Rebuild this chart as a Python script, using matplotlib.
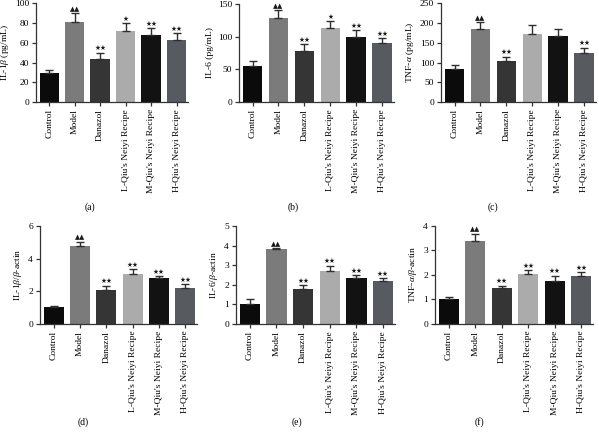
import matplotlib
matplotlib.use("Agg")
import matplotlib.pyplot as plt
import numpy as np

plt.rcParams['font.family'] = ['Liberation Serif', 'DejaVu Serif']
plt.rcParams['mathtext.fontset'] = 'custom'
plt.rcParams['mathtext.rm'] = 'Liberation Serif'
plt.rcParams['mathtext.it'] = 'Liberation Serif:italic'

categories = ["Control", "Model", "Danazol", "L-Qiu's Neiyi Recipe",
              "M-Qiu's Neiyi Recipe", "H-Qiu's Neiyi Recipe"]
bar_colors = ['#0b0b0b', '#7b7b7b', '#353535', '#ababab', '#121212', '#575b5f']

il1b_mean = [29, 81.5, 44, 72, 67.5, 62.5]
il1b_err = [3.5, 8.5, 6, 8, 7, 7.5]
il6_mean = [55.5, 128, 78.5, 113.5, 100, 90]
il6_err = [7, 13, 10, 10.5, 10, 8]
tnf_mean = [83, 184, 103, 172, 167, 123]
tnf_err = [11, 18, 12, 23, 18, 15]
il1b_rel_mean = [1.02, 4.76, 2.09, 3.08, 2.83, 2.22]
il1b_rel_err = [0.1, 0.3, 0.26, 0.27, 0.1, 0.24]
il6_rel_mean = [1.02, 3.82, 1.81, 2.71, 2.34, 2.2]
il6_rel_err = [0.27, 0.07, 0.17, 0.28, 0.17, 0.17]
tnf_rel_mean = [1.01, 3.4, 1.45, 2.05, 1.76, 1.94]
tnf_rel_err = [0.09, 0.29, 0.11, 0.13, 0.21, 0.19]

marks_a = ['', '▲▲', '★★', '★', '★★', '★★']
marks_b = ['', '▲▲', '★★', '★', '★★', '★★']
marks_c = ['', '▲▲', '★★', '', '', '★★']
marks_rel = ['', '▲▲', '★★', '★★', '★★', '★★']

ylabels = [r"IL-1$\beta$ (pg/mL)", "IL-6 (pg/mL)", r"TNF-$\alpha$ (pg/mL)",
           r"IL-1$\beta$/$\beta$-actin", r"IL-6/$\beta$-actin", r"TNF-$\alpha$/$\beta$-actin"]
yticks = [[0, 20, 40, 60, 80, 100], [0, 50, 100, 150], [0, 50, 100, 150, 200, 250],
          [0, 2, 4, 6], [0, 1, 2, 3, 4, 5], [0, 1, 2, 3, 4]]
panel_labels = ['(a)', '(b)', '(c)', '(d)', '(e)', '(f)']

datasets = [(il1b_mean, il1b_err, marks_a), (il6_mean, il6_err, marks_b),
            (tnf_mean, tnf_err, marks_c), (il1b_rel_mean, il1b_rel_err, marks_rel),
            (il6_rel_mean, il6_rel_err, marks_rel), (tnf_rel_mean, tnf_rel_err, marks_rel)]

W, H = 599, 434
fig = plt.figure(figsize=(W / 100, H / 100), dpi=100)

# axes boxes in pixels: left, right, top, bottom
boxes = [(36, 188, 3.3, 102), (239, 394, 4, 102), (441, 596, 3.3, 102),
         (40, 197, 226.3, 323.7), (236, 395, 226.3, 324), (435, 593, 226, 323.7)]
label_pos = [(90, 207), (293, 207), (493, 207), (83, 422), (297, 422), (479, 422)]

for i, (box, (mean, err, marks)) in enumerate(zip(boxes, datasets)):
    l, r, t, b = box
    ax = fig.add_axes([l / W, 1 - b / H, (r - l) / W, (b - t) / H])
    x = np.arange(len(categories))
    ax.bar(x, mean, width=0.76, color=bar_colors, zorder=2)
    ax.errorbar(x, mean, yerr=[np.zeros(len(err)), err], fmt='none',
                ecolor='#2e2e2e', elinewidth=1.0, capsize=3.2, capthick=1.0, zorder=3)
    ymax = yticks[i][-1]
    for xi, m, e, mk in zip(x, mean, err, marks):
        if mk:
            ax.text(xi, m + e + ymax * 0.012, mk, ha='center', va='bottom',
                    fontsize=4.8, color='#1a1a1a', family='DejaVu Sans')
    ax.set_xlim(-0.52, 5.45)
    ax.set_ylim(0, ymax)
    ax.set_yticks(yticks[i])
    ax.set_xticks(x)
    ax.set_xticklabels(categories, rotation=90, fontsize=6.8)
    ax.tick_params(axis='y', labelsize=6.8, length=3, width=0.9, pad=2, color='#333333')
    ax.tick_params(axis='x', length=3, width=0.9, pad=2, color='#333333')
    for s in ['top', 'right']:
        ax.spines[s].set_visible(False)
    for s in ['left', 'bottom']:
        ax.spines[s].set_linewidth(0.9)
        ax.spines[s].set_color('#333333')
    ax.set_ylabel(ylabels[i], fontsize=6.8, labelpad=3)
    fig.text(label_pos[i][0] / W, 1 - label_pos[i][1] / H, panel_labels[i],
             ha='center', va='center', fontsize=7)

fig.savefig('out.png', dpi=100)
